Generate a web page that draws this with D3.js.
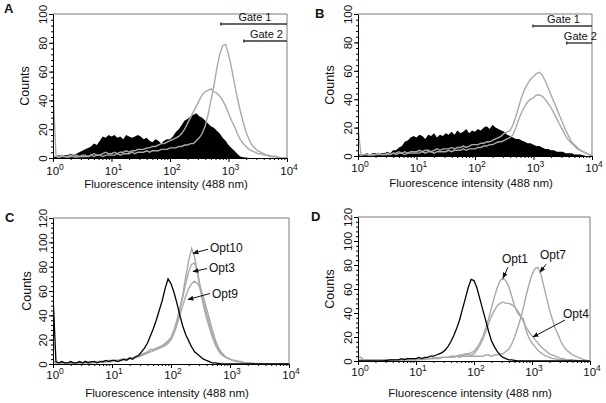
<!DOCTYPE html>
<html><head><meta charset="utf-8">
<script src="https://cdn.jsdelivr.net/npm/d3@7"></script>
<style>
body{margin:0;background:#fff}
text{font-family:Arial,"Liberation Sans",sans-serif;fill:#111}
</style>
</head><body>
<svg id="chart" width="606" height="403"></svg>
<script>
// ---------- DATA (histogram counts, one value per 0.05-decade bin from 10^0 to 10^4) ----------
const binWidth = 0.05;

const aBlack = [1,1,2,1,2,2,3,2,3,4, 5,6,7,8,10,9,12,15,14,16, 15,16,14,15,13,16,15,14,15,16, 15,13,14,12,11,13,12,10,12,13,
  13,15,18,20,23,26,27,29,30,31, 29,28,26,24,22,21,19,17,14,12, 9,7,5,3,1,0.5,0.3,0,0,0, 0,0,0,0,0,0,0,0,0,0];
const aGray1 = [50,2,1,2,1,1,2,1,2,1, 2,2,1,2,3,2,2,3,4,3, 3,4,3,4,4,5,4,5,5,6, 6,6,7,7,8,8,9,10,10,11,
  12,13,14,15,17,20,24,28,32,36, 40,44,46,47,48,46,45,43,40,36, 31,26,22,17,13,10,8,6,5,4, 3,3,2,2,1,1,1,0.5,0,0];
const aGray2 = [1,1,0.5,1,1,0.5,1,1,0.5,1, 1,1,1,2,1,2,2,1,2,2, 2,2,3,2,3,3,3,4,3,4, 4,4,5,4,5,5,5,6,6,6,
  7,7,7,8,8,9,9,10,10,12, 14,17,22,30,40,50,62,72,78,79, 72,63,52,42,33,25,18,13,9,7, 5,4,3,2,2,1,1,0.5,0,0];

const bBlack = [1,1,1,2,1,2,2,1,2,2, 3,2,4,4,6,7,10,11,13,14, 13,15,14,12,15,14,16,13,15,14, 16,15,17,15,18,16,17,19,16,18,
  17,19,18,20,21,19,22,20,19,18, 17,15,14,13,12,12,11,10,9,9, 8,7,7,6,5,5,4,4,3,3, 3,2,2,2,1,1,1,0.5,0,0];
const bGray1 = [20,1,1,1,0.5,1,1,2,1,1, 2,1,2,2,3,2,3,2,3,3, 3,4,3,4,4,3,4,5,4,5, 5,5,6,5,6,6,7,6,7,8,
  8,8,9,9,10,10,11,12,13,14, 16,17,18,22,28,35,42,47,51,54, 56,58,59,57,53,48,43,38,33,28, 23,18,14,10,8,6,4,3,2,1];
const bGray2 = [1,0.5,1,1,1,0.5,1,1,1,1, 1,1,2,1,2,2,1,2,2,2, 2,2,3,2,3,3,2,3,3,3, 3,4,3,4,4,4,5,4,5,5,
  5,6,6,7,7,8,8,9,10,10, 11,12,13,15,20,26,31,35,38,40, 41,43,43,42,40,37,34,30,26,22, 18,14,11,9,7,5,4,3,2,1];

const cBlack = [57,2,1,2,1,1,2,1,1,2, 1,2,1,2,2,1,2,2,3,2, 3,3,2,3,4,3,5,4,6,7, 10,13,17,23,29,36,44,52,62,70,
  66,59,50,40,31,24,19,14,10,8, 6,4,3,2,1,1,0.5,0,0,0, 0,0,0,0,0,0,0,0,0,0, 0,0,0,0,0,0,0,0,0,0];
const cOpt10 = [3,1,1,0.5,1,1,0.5,1,1,1, 1,1,1,1,2,1,2,2,2,2, 2,3,3,3,4,4,5,5,6,7, 8,9,10,12,12,13,14,15,17,19,
  22,28,36,46,57,72,85,95,88,74, 60,48,38,30,22,16,11,8,6,5, 4,3,2,2,1,1,1,0.5,0,0, 0,0,0,0,0,0,0,0,0,0];
const cOpt3 = [2,1,0.5,1,1,0.5,1,1,1,0.5, 1,1,2,1,1,2,2,1,2,2, 3,2,3,4,3,4,4,5,6,6, 7,8,9,10,11,12,13,14,15,17,
  20,26,34,44,55,66,76,82,83,75, 63,52,42,33,25,18,13,9,7,5, 4,3,3,2,2,1,1,1,0.5,0.5, 0.5,0,0,0,0,0,0,0,0,0];
const cOpt9 = [2,0.5,1,1,0.5,1,1,0.5,1,1, 1,2,1,1,2,1,2,2,2,3, 2,3,3,4,3,4,5,5,5,6, 7,8,9,10,11,12,13,14,16,18,
  20,25,32,40,48,56,62,66,68,66, 62,55,46,37,28,20,14,10,7,5, 4,3,2,2,1,1,1,0.5,0.5,0, 0,0,0,0,0,0,0,0,0,0];

const dBlack = [0,0,0,0,0,0,0,0,0,0, 0.5,1,1,1,1,2,1,2,2,2, 2,3,2,3,3,4,4,5,6,7, 9,12,16,21,27,34,43,52,61,68,
  67,61,52,43,34,25,17,12,8,5, 3,2,1,1,0.5,0,0,0,0,0, 0,0,0,0,0,0,0,0,0,0, 0,0,0,0,0,0,0,0,0,0];
const dOpt1 = [4,3,1,1,1,0.5,1,1,0.5,1, 1,1,1,1,1,1,1,2,1,1, 1,2,1,2,2,2,2,3,2,3, 3,3,4,4,4,5,5,6,6,7,
  8,11,15,20,27,35,44,53,61,67, 69,67,62,54,46,40,37,35,25,19, 15,12,9,7,5,4,3,2,2,1, 1,1,0.5,0.5,0,0,0,0,0,0];
const dOpt4 = [1,1,0.5,1,1,1,0.5,1,1,1, 1,1,1,1,1,1,1,1,1,1, 1,1,2,1,2,2,2,2,2,3, 3,3,3,3,4,4,4,5,5,5,
  6,9,13,18,24,31,37,42,46,48, 49,48,48,47,45,42,38,33,28,24, 21,18,15,12,10,8,6,5,4,3, 2,2,1,1,1,0.5,0.5,0,0,0];
const dOpt7 = [1,0.5,1,1,0.5,1,1,1,0.5,1, 1,1,1,1,1,1,2,1,1,2, 1,2,2,2,2,2,3,2,3,3, 3,3,3,3,4,3,4,4,4,4,
  4,4,4,4,5,5,4,5,5,6, 6,8,10,14,20,27,35,44,55,64, 72,77,78,73,63,53,43,35,27,22, 16,12,9,7,5,4,3,2,1,0.5];

const xTickValues = [1, 10, 100, 1000, 10000];
const xTickExponents = ["0", "1", "2", "3", "4"];
const yTicksAB = [0, 20, 40, 60, 80, 100];
const yTicksCD = [0, 20, 40, 60, 80, 100, 120];
const gatesA = [{label: "Gate 1", from: 740, to: 10000}, {label: "Gate 2", from: 1830, to: 10000}];
const gatesB = [{label: "Gate 1", from: 980, to: 10000}, {label: "Gate 2", from: 3700, to: 10000}];
const annC = [{label: "Opt10", tip: [236, 91]}, {label: "Opt3", tip: [236, 76]}, {label: "Opt9", tip: [194, 53]}];
const annD = [{label: "Opt1", tip: [316, 69]}, {label: "Opt7", tip: [1374, 74]}, {label: "Opt4", tip: [1040, 20]}];

// ---------- LAYOUT ----------
const panels = [
  {letter: "A", lx: 4, ly: 13, l: 53, r: 287, t: 14, b: 158, ymax: 100, yTicks: yTicksAB,
   fills: [aBlack], grays: [aGray1, aGray2], blacks: [], gates: gatesA, gateY: [24, 41],
   tickLabY: 17, titleY: 30, countsDx: 24, ann: [], annStyle: []},
  {letter: "B", lx: 315, ly: 18, l: 358, r: 592, t: 14, b: 156, ymax: 100, yTicks: yTicksAB,
   fills: [bBlack], grays: [bGray1, bGray2], blacks: [], gates: gatesB, gateY: [26, 43],
   tickLabY: 16, titleY: 31, countsDx: 24, ann: [], annStyle: []},
  {letter: "C", lx: 5, ly: 222, l: 53, r: 289, t: 218, b: 364, ymax: 120, yTicks: yTicksCD,
   fills: [], grays: [cOpt10, cOpt3, cOpt9], blacks: [cBlack], gates: [], gateY: [],
   tickLabY: 15, titleY: 33, countsDx: 22, ann: annC,
   annStyle: [{tail: [15, -4], text: [17, -1], anchor: "start"},
              {tail: [14, -3], text: [16, 0], anchor: "start"},
              {tail: [22, -6], text: [24, -2], anchor: "start"}]},
  {letter: "D", lx: 311, ly: 221, l: 358, r: 590, t: 217, b: 361, ymax: 120, yTicks: yTicksCD,
   fills: [], grays: [dOpt1, dOpt4, dOpt7], blacks: [dBlack], gates: [], gateY: [],
   tickLabY: 15, titleY: 36, countsDx: 24, ann: annD,
   annStyle: [{tail: [5, -11], text: [12, -15], anchor: "middle"},
              {tail: [6, -8], text: [13, -13], anchor: "middle"},
              {tail: [32, -17], text: [30, -19], anchor: "start"}]}
];

const svg = d3.select("#chart");
const defs = svg.append("defs");
defs.append("marker").attr("id", "arrow").attr("viewBox", "0 0 10 10")
  .attr("refX", 9).attr("refY", 5).attr("markerWidth", 6).attr("markerHeight", 6)
  .attr("orient", "auto-start-reverse")
  .append("path").attr("d", "M0,1 L10,5 L0,9 z").attr("fill", "#111");

const GRAY = "#a9a9a9";

panels.forEach((p, pi) => {
  const g = svg.append("g");
  const x = d3.scaleLog().domain([1, 10000]).range([p.l, p.r]);
  const y = d3.scaleLinear().domain([0, p.ymax]).range([p.b, p.t]);

  defs.append("clipPath").attr("id", "clip" + pi).append("rect")
    .attr("x", p.l).attr("y", p.t - 1).attr("width", p.r - p.l).attr("height", p.b - p.t + 1);

  // points at bin starts, anchored on the baseline at the left edge
  const toPts = arr => [[1, 0]].concat(arr.map((v, i) => [Math.pow(10, i * binWidth), v]))
    .concat([[10000, 0]]);

  const line = d3.line().x(d => x(d[0])).y(d => y(d[1]));
  const area = d3.area().x(d => x(d[0])).y0(y(0)).y1(d => y(d[1]));

  const plot = g.append("g").attr("clip-path", `url(#clip${pi})`);
  p.fills.forEach(arr => plot.append("path").datum(toPts(arr)).attr("d", area).attr("fill", "#000"));
  p.grays.forEach(arr => plot.append("path").datum(toPts(arr)).attr("d", line)
    .attr("fill", "none").attr("stroke", GRAY).attr("stroke-width", 1.4));
  p.blacks.forEach(arr => plot.append("path").datum(toPts(arr)).attr("d", line)
    .attr("fill", "none").attr("stroke", "#000").attr("stroke-width", 1.3));

  // frame (top / right)
  g.append("path").attr("d", `M${p.l},${p.t}H${p.r}V${p.b}`)
    .attr("fill", "none").attr("stroke", "#7a7a7a").attr("stroke-width", 1);

  // x axis
  const minorX = [];
  for (let k = 0; k < 4; k++) for (let m = 2; m <= 9; m++) minorX.push(m * Math.pow(10, k));
  const xa = g.append("g").attr("transform", `translate(0,${p.b})`)
    .call(d3.axisBottom(x).tickValues(xTickValues).tickSize(4).tickSizeOuter(0).tickFormat(""));
  xa.select(".domain").attr("stroke", "#000");
  g.append("g").attr("transform", `translate(0,${p.b})`)
    .call(d3.axisBottom(x).tickValues(minorX).tickSize(2).tickSizeOuter(0).tickFormat(""))
    .select(".domain").remove();
  xTickValues.forEach((v, i) => {
    const t = g.append("text").attr("x", x(v) + 2).attr("y", p.b + p.tickLabY)
      .attr("text-anchor", "middle").attr("font-size", "11.5px").text("10");
    t.append("tspan").attr("dy", -5).attr("font-size", "8.5px").text(xTickExponents[i]);
  });
  g.append("text").attr("x", (p.l + p.r) / 2 - 4).attr("y", p.b + p.titleY)
    .attr("text-anchor", "middle").attr("font-size", "11.5px").text("Fluorescence intensity (488 nm)");

  // y axis
  const ya = g.append("g").attr("transform", `translate(${p.l},0)`)
    .call(d3.axisLeft(y).tickValues(p.yTicks).tickSize(4).tickSizeOuter(0));
  ya.select(".domain").attr("stroke", "#000");
  ya.selectAll("text").attr("font-size", "11.5px").attr("font-family", "Arial, 'Liberation Sans', sans-serif")
    .attr("fill", "#111").attr("text-anchor", "middle")
    .attr("x", 0).attr("y", -6.5).attr("dy", 0).attr("transform", "rotate(-90)");
  g.append("g").attr("transform", `translate(${p.l},0)`)
    .call(d3.axisLeft(y).tickValues(d3.range(0, p.ymax + 0.1, 4)).tickSize(2).tickSizeOuter(0).tickFormat(""))
    .select(".domain").remove();
  g.append("text").attr("transform", `translate(${p.l - p.countsDx},${(p.t + p.b) / 2}) rotate(-90)`)
    .attr("text-anchor", "middle").attr("font-size", "12.5px").text("Counts");

  // panel letter
  g.append("text").attr("x", p.lx).attr("y", p.ly).attr("font-size", "13px")
    .attr("font-weight", "bold").text(p.letter);

  // gates
  p.gates.forEach((gt, i) => {
    const gy = p.gateY[i];
    const x0 = x(gt.from), x1 = x(gt.to);
    g.append("line").attr("x1", x0).attr("x2", x1).attr("y1", gy).attr("y2", gy)
      .attr("stroke", "#333").attr("stroke-width", 1.4);
    g.append("line").attr("x1", x0).attr("x2", x0).attr("y1", gy - 1.5).attr("y2", gy + 1.5)
      .attr("stroke", "#333").attr("stroke-width", 1.4);
    g.append("text").attr("x", (x0 + x1) / 2 + 1).attr("y", gy - 3).attr("text-anchor", "middle")
      .attr("font-size", "11px").text(gt.label);
  });

  // annotations
  p.ann.forEach((a, i) => {
    const st = p.annStyle[i];
    const tx = x(a.tip[0]), ty = y(a.tip[1]);
    g.append("line").attr("x1", tx + st.tail[0]).attr("y1", ty + st.tail[1])
      .attr("x2", tx).attr("y2", ty).attr("stroke", "#111").attr("stroke-width", 1)
      .attr("marker-end", "url(#arrow)");
    g.append("text").attr("x", tx + st.text[0]).attr("y", ty + st.text[1])
      .attr("text-anchor", st.anchor).attr("font-size", "12px").text(a.label);
  });
});
</script>
</body></html>
